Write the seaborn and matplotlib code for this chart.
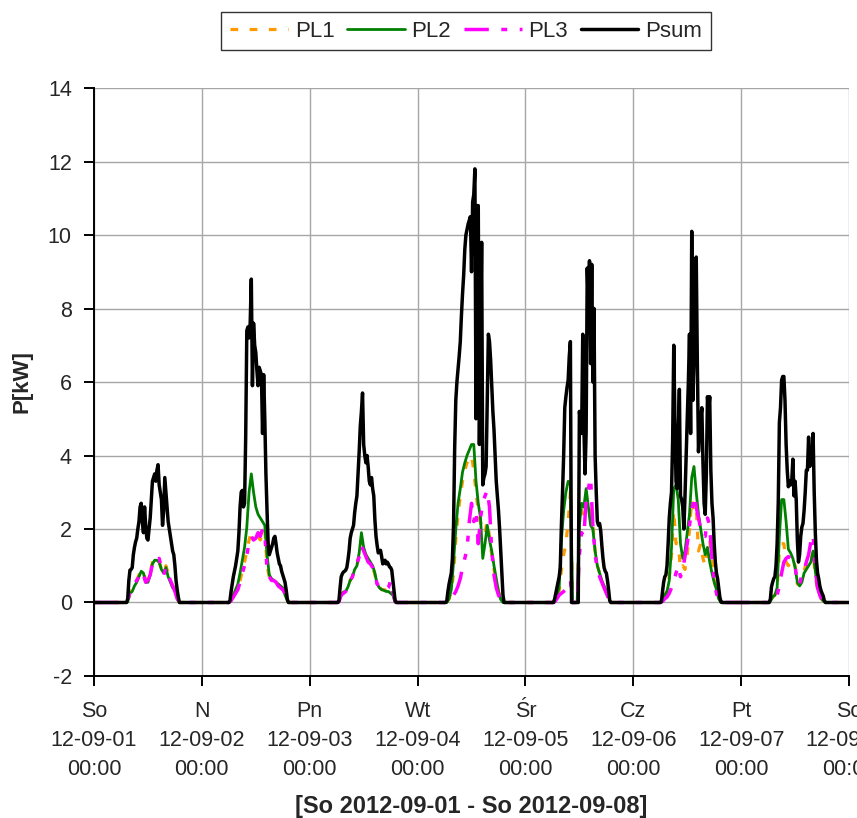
import numpy as np
import pandas as pd
import matplotlib
matplotlib.use("Agg")
import matplotlib.pyplot as plt
import seaborn as sns

# ---- axis labels -----------------------------------------------------------
day_names = ["So", "N", "Pn", "Wt", "Śr", "Cz", "Pt", "So"]
day_dates = ["12-09-01", "12-09-02", "12-09-03", "12-09-04",
             "12-09-05", "12-09-06", "12-09-07", "12-09-08"]
x_title = "[So 2012-09-01 - So 2012-09-08]"
y_title = "P[kW]"

# ---- measured power [kW] ---------------------------------------------------
# Daytime window of every day starts at 06:00 and ends at 20:00.
# Total power: 15-minute samples; phase powers: 30-minute samples.
# Outside the window (night) all readings are 0.
day_from_hour = 6.0
psum_step_h = 0.25
phase_step_h = 0.5

psum_days = [
    [0, 0, 0, 0,  0, 0, 0.1, 0.6,  0.88, 0.9, 0.95, 1.3,  1.5, 1.65, 1.75, 2.0,
     2.2, 2.6, 2.7, 2.2,  1.9, 2.6, 2.1, 1.75,  1.7, 2.0, 2.3, 2.8,  3.3, 3.4, 3.5, 3.3,
     3.6, 3.75, 3.2, 3.0,  2.8, 2.1, 2.5, 3.4,  3.0, 2.6, 2.2, 2.0,  1.8, 1.6, 1.4, 1.3,
     1.0, 0.6, 0.35, 0.15,  0, 0, 0, 0,  0],
    [0, 0.05, 0.3, 0.5,  0.7, 0.85, 1.0, 1.2,  1.4, 1.9, 2.6, 3.0,  3.05, 2.6, 2.7, 4.5,
     7.4, 7.5, 7.2, 7.6,  8.8, 5.9, 7.6, 7.0,  6.8, 6.3, 5.9, 6.4,  6.3, 6.2, 4.6, 6.2,
     5.0, 3.5, 2.5, 1.6,  1.3, 1.4, 1.5, 1.6,  1.75, 1.8, 1.6, 1.35,  1.2, 1.05, 1.0, 0.85,
     0.75, 0.65, 0.55, 0.35,  0.1, 0, 0, 0,  0],
    [0, 0, 0.05, 0.4,  0.7, 0.78, 0.83, 0.85,  0.88, 0.95, 1.15, 1.4,  1.75, 1.9, 2.0, 2.1,
     2.45, 2.7, 2.9, 3.5,  4.1, 4.8, 5.2, 5.7,  4.3, 4.0, 3.8, 4.0,  3.7, 3.3, 3.2, 3.4,
     3.1, 2.9, 2.25, 1.8,  1.55, 1.35, 1.4, 1.42,  1.25, 1.05, 1.1, 1.15,  1.05, 1.1, 1.05, 0.97,
     0.95, 0.88, 0.6, 0.3,  0.05, 0, 0, 0,  0],
    [0, 0, 0.05, 0.3,  0.5, 0.65, 0.8, 1.2,  2.1, 4.2, 5.5, 6.0,  6.35, 6.7, 7.1, 7.8,
     8.4, 8.9, 9.6, 10.0,  10.15, 10.3, 10.4, 10.5,  9.0, 10.9, 11.1, 11.8,  5.0, 10.8, 10.8, 4.3,
     7.0, 9.8, 3.2, 3.4,  3.5, 3.7, 5.5, 7.3,  7.1, 6.6, 5.9, 5.2,  4.7, 4.0, 3.3, 2.9,
     2.5, 2.0, 1.4, 0.8,  0.2, 0, 0, 0,  0],
    [0, 0, 0.1, 0.25,  0.4, 0.55, 0.7, 0.95,  2.1, 3.0, 4.0, 5.3,  5.6, 5.85, 6.05, 6.7,
     7.1, 0, 0, 0,  0, 0, 0, 0,  5.2, 4.9, 4.6, 7.3,  4.8, 3.5, 4.6, 9.1,
     8.0, 9.3, 6.5, 9.2,  6.0, 8.0, 4.0, 3.0,  2.2, 2.1, 2.15, 1.95,  1.55, 1.2, 0.95, 0.85,
     0.8, 0.6, 0.35, 0.05,  0, 0, 0, 0,  0],
    [0, 0.02, 0.3, 0.55,  0.7, 0.75, 1.0, 1.6,  2.3, 2.7, 3.0, 4.4,  7.0, 5.0, 3.3, 3.1,
     4.6, 5.8, 2.9, 2.8,  2.6, 2.0, 2.9, 4.0,  5.0, 6.0, 7.3, 4.6,  10.1, 5.5, 6.5, 7.8,
     9.4, 6.5, 4.1, 4.7,  5.0, 5.3, 3.8, 2.7,  2.4, 3.5, 5.6, 5.2,  5.6, 3.6, 2.7, 2.3,
     1.6, 1.1, 0.8, 0.65,  0.4, 0.15, 0.02, 0,  0],
    [0, 0, 0.1, 0.43,  0.55, 0.65, 0.7, 1.0,  1.6, 2.7, 4.9, 5.3,  6.05, 6.15, 6.15, 5.5,
     4.3, 3.6, 3.15, 3.3,  3.2, 3.3, 3.9, 2.9,  3.3, 2.8, 1.7, 1.1,  1.3, 1.8, 2.05, 2.15,
     2.5, 3.0, 3.6, 3.6,  4.5, 3.7, 3.8, 4.0,  4.6, 3.0, 1.9, 1.15,  0.8, 0.65, 0.45, 0.33,
     0.25, 0.18, 0.05, 0,  0, 0, 0, 0,  0],
]

pl1_days = [
    [0, 0, 0, 0.03, 0.3, 0.35, 0.55, 0.6, 0.75, 0.9, 0.85, 0.6, 0.6, 0.8, 1.1,
     1.2, 1.25, 1.1, 0.9, 0.8, 1.0, 0.8, 0.6, 0.45, 0.35, 0.15, 0, 0, 0],
    [0, 0.05, 0.15, 0.3, 0.4, 0.6, 0.85, 1.1, 1.4, 1.7, 1.9, 1.8, 1.8, 1.8, 1.7,
     1.9, 2.0, 1.0, 0.7, 0.65, 0.6, 0.55, 0.5, 0.4, 0.35, 0.2, 0.05, 0, 0],
    [0, 0.02, 0.22, 0.28, 0.3, 0.4, 0.6, 0.7, 0.9, 1.0, 1.3, 1.7, 1.45, 1.3, 1.15,
     1.1, 1.0, 0.75, 0.5, 0.42, 0.35, 0.35, 0.33, 0.33, 0.3, 0.25, 0.02, 0, 0],
    [0, 0, 0.1, 0.3, 0.8, 1.7, 2.4, 2.9, 3.3, 3.6, 3.8, 3.9, 4.0, 3.6, 3.0,
     2.5, 2.2, 1.9, 1.9, 2.2, 1.8, 1.3, 0.9, 0.55, 0.3, 0.08, 0, 0, 0],
    [0, 0.05, 0.2, 0.3, 0.9, 1.3, 1.6, 2.2, 3.0, 0, 0, 0, 2.2, 2.5, 2.3,
     2.8, 2.7, 2.4, 2.1, 1.4, 1.0, 0.8, 0.55, 0.4, 0.3, 0.12, 0, 0, 0],
    [0, 0.05, 0.2, 0.3, 0.7, 1.3, 2.5, 1.6, 1.6, 0.9, 1.0, 0.9, 1.3, 2.0, 2.8,
     2.5, 2.6, 1.4, 1.6, 1.2, 1.0, 1.6, 1.7, 1.1, 0.6, 0.35, 0.12, 0.02, 0],
    [0, 0.03, 0.15, 0.2, 0.4, 1.4, 1.6, 1.6, 1.1, 1.0, 1.1, 1.2, 1.0, 0.5, 0.5,
     0.65, 0.85, 1.1, 1.2, 1.1, 1.4, 0.7, 0.35, 0.15, 0.08, 0.02, 0, 0, 0],
]

pl2_days = [
    [0, 0, 0, 0.02, 0.25, 0.3, 0.45, 0.55, 0.7, 0.85, 0.8, 0.55, 0.55, 0.75, 1.05,
     1.15, 1.15, 1.1, 0.9, 0.8, 0.95, 0.7, 0.55, 0.4, 0.35, 0.15, 0, 0, 0],
    [0, 0.05, 0.2, 0.35, 0.5, 0.8, 1.15, 1.5, 2.05, 3.0, 3.5, 3.0, 2.6, 2.4, 2.3,
     2.2, 2.1, 1.3, 0.75, 0.65, 0.6, 0.55, 0.5, 0.45, 0.4, 0.2, 0.05, 0, 0],
    [0, 0.02, 0.2, 0.28, 0.3, 0.42, 0.6, 0.7, 0.9, 1.0, 1.35, 1.9, 1.5, 1.3, 1.2,
     1.1, 1.0, 0.8, 0.5, 0.4, 0.35, 0.33, 0.3, 0.3, 0.25, 0.2, 0.02, 0, 0],
    [0, 0, 0.1, 0.35, 1.1, 2.0, 2.7, 3.1, 3.55, 3.8, 4.0, 4.15, 4.3, 4.3, 3.3,
     2.7, 2.3, 1.2, 1.6, 2.1, 1.7, 1.4, 1.0, 0.65, 0.3, 0.08, 0, 0, 0],
    [0, 0.05, 0.2, 0.4, 1.7, 2.5, 3.0, 3.3, 3.2, 0, 0, 0, 2.1, 2.7, 2.6,
     3.1, 2.6, 2.1, 2.0, 1.4, 1.0, 0.8, 0.6, 0.45, 0.3, 0.15, 0, 0, 0],
    [0, 0.05, 0.2, 0.3, 0.6, 1.5, 3.1, 3.2, 2.8, 1.6, 1.2, 1.4, 1.9, 2.4, 3.4,
     3.7, 3.0, 2.4, 2.0, 1.6, 1.3, 1.5, 1.1, 0.8, 0.55, 0.35, 0.1, 0, 0],
    [0, 0.03, 0.15, 0.2, 0.4, 1.8, 2.8, 2.8, 2.2, 1.45, 1.35, 1.2, 0.95, 0.55, 0.45,
     0.55, 0.8, 0.9, 1.0, 1.1, 1.4, 0.85, 0.4, 0.2, 0.08, 0.02, 0, 0, 0],
]

pl3_days = [
    [0, 0, 0, 0.03, 0.3, 0.35, 0.5, 0.6, 0.7, 0.85, 0.75, 0.55, 0.6, 0.75, 1.05,
     1.2, 1.15, 1.2, 0.95, 0.75, 0.95, 0.75, 0.6, 0.45, 0.3, 0.1, 0, 0, 0],
    [0, 0.05, 0.15, 0.25, 0.35, 0.55, 0.8, 1.0, 1.3, 1.6, 1.8, 1.7, 1.75, 1.9, 1.8,
     2.0, 1.9, 0.9, 0.7, 0.6, 0.6, 0.55, 0.45, 0.4, 0.35, 0.25, 0.05, 0, 0],
    [0, 0.02, 0.2, 0.25, 0.3, 0.4, 0.6, 0.7, 0.95, 1.05, 1.25, 1.55, 1.4, 1.25, 1.1,
     1.05, 0.95, 0.75, 0.5, 0.45, 0.38, 0.35, 0.33, 0.4, 0.6, 0.3, 0.02, 0, 0],
    [0, 0, 0.05, 0.12, 0.2, 0.3, 0.45, 0.65, 0.95, 1.2, 1.45, 2.2, 2.7, 2.2, 2.5,
     1.6, 2.3, 2.7, 2.9, 3.05, 2.6, 1.4, 0.75, 0.4, 0.2, 0.08, 0, 0, 0],
    [0, 0.02, 0.1, 0.2, 0.25, 0.3, 0.35, 0.43, 0.6, 0, 0, 0, 1.3, 1.9, 1.8,
     2.8, 3.1, 3.4, 2.1, 1.3, 0.9, 0.7, 0.55, 0.4, 0.25, 0.1, 0, 0, 0],
    [0, 0.03, 0.1, 0.15, 0.25, 0.4, 0.55, 0.8, 1.0, 0.7, 0.9, 1.25, 1.6, 2.1, 2.5,
     2.9, 2.6, 2.3, 2.0, 1.8, 1.8, 2.3, 2.1, 1.2, 0.6, 0.25, 0.05, 0, 0],
    [0, 0.02, 0.1, 0.15, 0.2, 0.45, 0.8, 1.1, 1.2, 1.25, 1.2, 1.15, 1.0, 0.5, 0.5,
     0.75, 0.88, 1.1, 1.3, 1.65, 1.85, 0.9, 0.4, 0.2, 0.05, 0, 0, 0, 0],
]


def week_series(days, step_h):
    """Join the daily daytime samples into one week-long series (time in days)."""
    t, v = [], []
    for d, vals in enumerate(days):
        t.append(float(d))           # midnight reading
        v.append(0.0)
        hours = day_from_hour + step_h * np.arange(len(vals))
        t.extend(d + hours / 24.0)
        v.extend(vals)
    t.append(float(len(days)))
    v.append(0.0)
    return np.array(t), np.array(v)


series = [
    ("PL1", pl1_days, phase_step_h, "#FF9900", 2.3, (0, (2.4, 3.6))),
    ("PL2", pl2_days, phase_step_h, "#008000", 2.0, "-"),
    ("PL3", pl3_days, phase_step_h, "#FF00FF", 2.5, (0, (7.0, 3.6, 1.7, 3.6, 1.7, 3.6))),
    ("Psum", psum_days, psum_step_h, "#000000", 2.5, "-"),
]

# ---- figure ------------------------------------------------------------------
sns.set_theme(style="white")
plt.rcParams["font.family"] = ["Liberation Sans", "DejaVu Sans"]
plt.rcParams["axes.unicode_minus"] = False

fig = plt.figure(figsize=(8.57, 8.18), dpi=100)
ax = fig.add_axes([0.1097, 0.1736, 0.881, 0.7188])

for name, days, step, color, lw, ls in series:
    t, v = week_series(days, step)
    df = pd.DataFrame({"t": t, "P": v})
    sns.lineplot(data=df, x="t", y="P", ax=ax, color=color, linewidth=lw,
                 linestyle=ls, label=name, estimator=None, sort=False)

ax.set_xlim(0, 7)
ax.set_ylim(-2, 14)
ax.set_yticks(np.arange(-2, 15, 2))
ax.set_xticks(np.arange(8))
ax.set_xticklabels([f"{n}\n{d}\n00:00" for n, d in zip(day_names, day_dates)],
                   fontsize=15.5, linespacing=1.5)
ax.tick_params(axis="y", labelsize=15.5, pad=9)
ax.tick_params(axis="x", pad=11)
ax.tick_params(axis="both", direction="out", length=7, width=1.4, color="black",
               bottom=True, left=True)

ax.grid(True, color="#a6a6a6", linewidth=1.0)
ax.set_axisbelow(True)
for side in ("top", "right"):
    ax.spines[side].set_visible(False)
for side in ("left", "bottom"):
    ax.spines[side].set_color("black")
    ax.spines[side].set_linewidth(1.4)

ax.set_xlabel(x_title, fontsize=17, fontweight="bold", labelpad=11)
ax.set_ylabel(y_title, fontsize=16, fontweight="bold", labelpad=11)

handles, labels = ax.get_legend_handles_labels()
ax.get_legend().remove()
leg = fig.legend(handles, labels, loc="center", bbox_to_anchor=(0.5438, 0.962),
                 ncol=4, fontsize=16, frameon=True, fancybox=False, shadow=False,
                 handlelength=2.6, handletextpad=0.3, columnspacing=0.57,
                 borderpad=0.4, borderaxespad=0)
leg.get_frame().set_edgecolor("black")
leg.get_frame().set_linewidth(1.0)

fig.savefig("out.png", dpi=100)
